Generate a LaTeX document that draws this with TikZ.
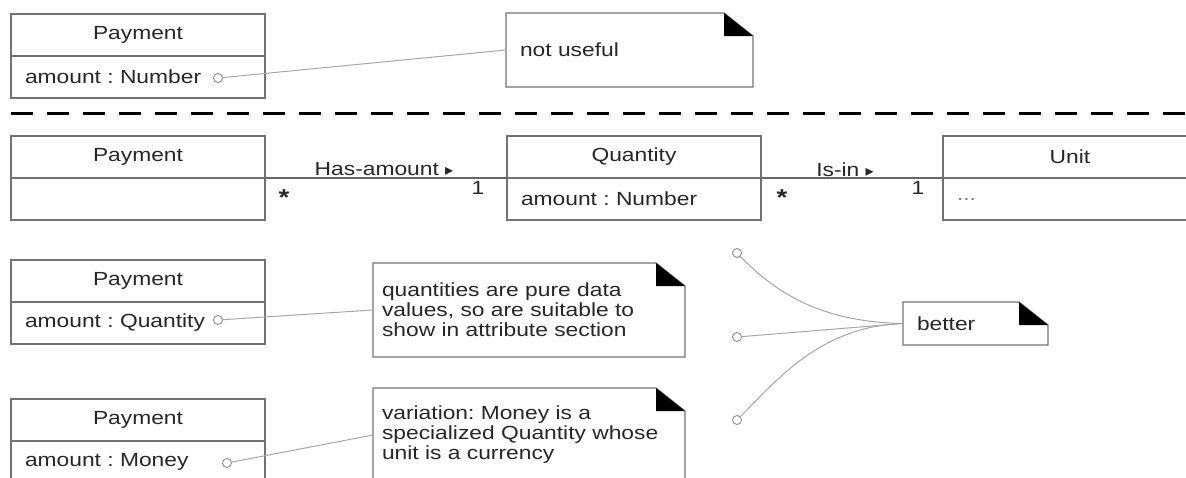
\documentclass[tikz,border=0pt]{standalone}
\usepackage{fontspec}
\setmainfont{Liberation Sans}[FakeStretch=1.2]
\newfontfamily\arrowfont{DejaVu Sans}
\usetikzlibrary{positioning, calc}
\frenchspacing

\newcommand{\assocdir}{{\arrowfont\fontsize{16}{16}\selectfont ▸}}
\newcommand{\dogear}[1]{%
  \draw[noteline] (#1.north west) -- ($(#1.north east)+(-29,0)$) -- ($(#1.north east)+(0,23)$)
    -- (#1.south east) -- (#1.south west) -- cycle;
  \fill[black] ($(#1.north east)+(-29,0)$) -- ($(#1.north east)+(-29,23)$) -- ($(#1.north east)+(0,23)$) -- cycle;}

\begin{document}
\begin{tikzpicture}[x=1pt, y=-1pt, font=\fontsize{19}{20}\selectfont, text=black!85,
  cls/.style={draw=black!55, line width=1.2pt, outer sep=0pt, inner sep=0pt, minimum width=254pt, minimum height=42pt, anchor=north west},
  attr/.style={draw=black!55, line width=1.2pt, outer sep=0pt, inner xsep=14pt, inner ysep=0pt, text width=226pt, minimum height=42pt, align=left},
  note/.style={outer sep=0pt, inner ysep=0pt, align=left, anchor=north west},
  noteline/.style={draw=black!55, line width=1.2pt},
  assoc/.style={draw=black!60, line width=1.2pt},
  link/.style={draw=black!35, line width=1pt},
  port/.style={circle, draw=black!45, line width=0.9pt, minimum size=9pt, inner sep=0pt},
  mult/.style={inner sep=0pt},
  star/.style={inner sep=0pt, font=\fontsize{23}{23}\selectfont\bfseries}]
\useasboundingbox (0,0) rectangle (1186,477);
\clip (0,0) rectangle (1186,477);

% plain number attribute
\node[cls] (payA) at (11,14) {Payment};
\node[attr, below=0pt of payA] (payAattr) {amount : Number};
\node[port] (portA) at (218,78) {};
\node[note, minimum width=247pt, minimum height=74pt, text width=219pt, inner xsep=14pt] (noteA) at (506,13) {not useful};
\dogear{noteA}
\draw[link] (portA) -- (noteA.west);

\draw[line width=3pt, dash pattern=on 22pt off 14pt] (11,113) -- (1186,113);

% quantity as a class
\node[cls] (payB) at (11,136) {Payment};
\node[attr, below=0pt of payB] (payBattr) {};
\node[cls] (qty) at (507,136) {Quantity};
\node[attr, below=0pt of qty] (qtyattr) {amount : Number};
\node[cls] (unit) at (943,136) {Unit};
\node[attr, below=0pt of unit] (unitattr) {\textcolor{black!50}{...}};
\draw[assoc] (payB.south east) -- (qty.south west);
\draw[assoc] (qty.south east) -- (unit.south west);
\node (hasamt) at (384,169) {Has-amount \assocdir};
\node (isin) at (845,170) {Is-in \assocdir};
\node[star] (multA) at (284,198) {*};
\node[mult] (multB) at (478,188) {1};
\node[star] (multC) at (782,198) {*};
\node[mult] (multD) at (918,188) {1};

% quantity and money as attribute types
\node[cls] (payC) at (11,260) {Payment};
\node[attr, below=0pt of payC] (payCattr) {amount : Quantity};
\node[port] (portC) at (218,320) {};
\node[note, minimum width=312pt, minimum height=94pt, text width=294pt, inner xsep=9pt] (noteC) at (373,263) {quantities are pure data\\values, so are suitable to\\show in attribute section};
\dogear{noteC}
\draw[link] (portC) -- (noteC.west);

\node[cls] (payD) at (11,399) {Payment};
\node[attr, below=0pt of payD] (payDattr) {amount : Money};
\node[port] (portD) at (227,463) {};
\node[note, minimum width=312pt, minimum height=94pt, text width=294pt, inner xsep=9pt] (noteD) at (373,388) {variation: Money is a\\specialized Quantity whose\\unit is a currency};
\dogear{noteD}
\draw[link] (portD) -- (noteD.west);

\node[port] (portE) at (737,253) {};
\node[port] (portF) at (737,337) {};
\node[port] (portG) at (737,420) {};
\node[note, minimum width=145pt, minimum height=43pt, text width=117pt, inner xsep=14pt] (better) at (903,302) {better};
\dogear{better}
\draw[link] (portE) .. controls (775,292) and (820,322) .. (better.west);
\draw[link] (portF) -- (better.west);
\draw[link] (portG) .. controls (775,382) and (820,326) .. (better.west);
\end{tikzpicture}
\end{document}
